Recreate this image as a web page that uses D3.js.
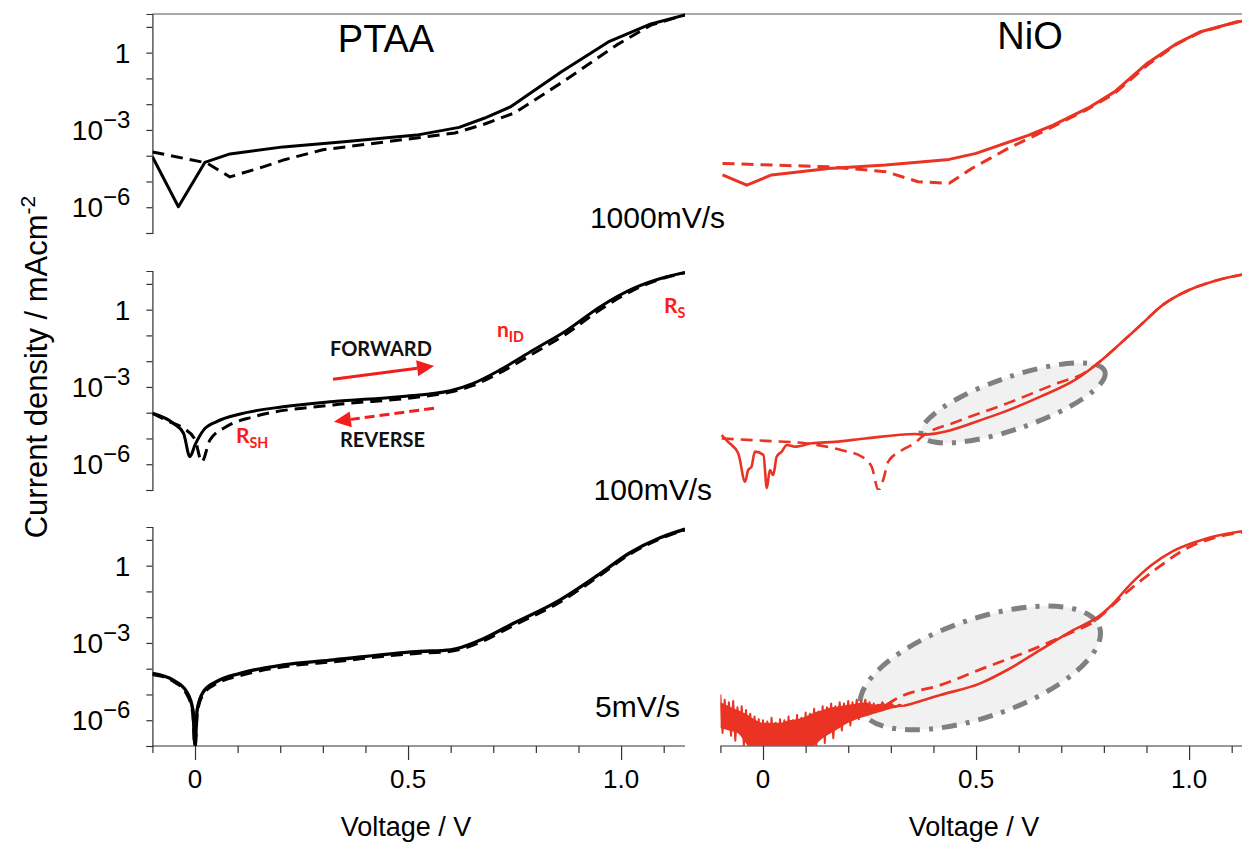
<!DOCTYPE html>
<html><head><meta charset="utf-8">
<script src="https://cdn.jsdelivr.net/npm/d3@7/dist/d3.min.js"></script>
<style>body{margin:0;background:#fff}svg{display:block}</style>
</head><body>
<svg id="chart" width="1242" height="842"></svg>
<script>
// ---------------- DATA (voltage V, current density mA/cm2) ----------------
const voltageTicks = [-0.1,0,0.1,0.2,0.3,0.4,0.5,0.6,0.7,0.8,0.9,1.0,1.1];
const voltageTickLabels = {"0":"0","0.5":"0.5","1":"1.0"};
const currentTicks = [1e-7,1e-6,1e-5,1e-4,1e-3,1e-2,1e-1,1,10];
const currentTickLabels = [[1,"1",""],[1e-3,"10","\u22123"],[1e-6,"10","\u22126"]];
const panelTitles = ["PTAA","NiO"];
const scanRates = ["1000mV/s","100mV/s","5mV/s"];

// PTAA 1000 mV/s
const ptaa1000Fwd = [[-0.1,9.1e-5],[-0.039,1.05e-6],[0.023,5.5e-5],[0.082,1.17e-4],[0.207,2.2e-4],[0.35,3.5e-4],[0.52,6.3e-4],[0.62,1.26e-3],[0.68,2.9e-3],[0.74,7.8e-3],[0.86,0.18],[0.97,2.6],[1.07,13],[1.15,29]];
const ptaa1000Rev = [[-0.1,1.4e-4],[0.028,5.2e-5],[0.082,1.5e-5],[0.16,3.7e-5],[0.21,7.0e-5],[0.3,1.7e-4],[0.52,4.9e-4],[0.61,7.6e-4],[0.68,1.7e-3],[0.75,4.6e-3],[0.87,0.087],[0.99,2.0],[1.07,11.7],[1.15,29]];
// NiO 1000 mV/s
const nio1000Fwd = [[-0.095,1.8e-5],[-0.038,7.2e-6],[0.02,1.8e-5],[0.154,3.2e-5],[0.288,4.4e-5],[0.437,7.2e-5],[0.5,1.23e-4],[0.624,6.3e-4],[0.681,1.55e-3],[0.768,7.9e-3],[0.825,0.030],[0.902,0.39],[0.972,2.3],[1.027,6.5],[1.113,15.8],[1.15,19]];
const nio1000Rev = [[-0.095,5.0e-5],[0.154,3.7e-5],[0.288,2.4e-5],[0.364,9.8e-6],[0.437,8.5e-6],[0.49,3.2e-5],[0.576,1.95e-4],[0.672,1.15e-3],[0.758,5.9e-3],[0.825,0.026],[0.902,0.33],[0.972,2.2],[1.027,6.3],[1.113,15.5],[1.15,19]];
// PTAA 100 mV/s
const ptaa100Fwd = [[-0.1,9.5e-5],[-0.051,3.9e-5],[-0.027,1.6e-5],[-0.012,1.95e-6],[0,5.6e-6],[0.02,2.1e-5],[0.051,4.5e-5],[0.106,8.9e-5],[0.207,1.7e-4],[0.325,2.7e-4],[0.481,4.2e-4],[0.599,7.1e-4],[0.653,1.38e-3],[0.716,4.6e-3],[0.794,0.027],[0.873,0.16],[0.951,1.3],[1.03,6.8],[1.107,19],[1.15,28]];
const ptaa100Rev = [[-0.1,9.5e-5],[-0.06,4.5e-5],[-0.027,2.5e-5],[0.0,9e-6],[0.016,1.26e-6],[0.035,8.7e-6],[0.074,2.9e-5],[0.137,6.9e-5],[0.325,2.0e-4],[0.52,4.0e-4],[0.599,6.3e-4],[0.653,1.15e-3],[0.716,3.6e-3],[0.794,0.02],[0.873,0.12],[0.951,1.0],[1.03,5.9],[1.107,18],[1.15,27]];
// NiO 100 mV/s
const nio100Fwd = [[-0.097,1.35e-5],[-0.082,7.4e-6],[-0.058,2.6e-6],[-0.042,2.1e-7],[-0.035,5.9e-7],[-0.027,8e-7],[-0.019,3.1e-6],[0.001,2.3e-6],[0.009,1.2e-7],[0.016,5.9e-7],[0.024,3.8e-7],[0.032,1.95e-6],[0.044,3.1e-6],[0.056,5.6e-6],[0.075,4.8e-6],[0.114,6.5e-6],[0.169,7.4e-6],[0.24,1.0e-5],[0.357,1.5e-5],[0.373,1.4e-5],[0.533,6.9e-5],[0.651,4.2e-4],[0.737,2.1e-3],[0.8,0.013],[0.839,0.049],[0.886,0.25],[0.94,1.6],[1.0,5.8],[1.06,13],[1.12,22],[1.15,27]];
const nio100Rev = [[-0.097,1.0e-5],[0.005,8.1e-6],[0.099,6.5e-6],[0.185,3.5e-6],[0.232,1.95e-6],[0.255,8e-7],[0.271,1e-7],[0.283,2.8e-7],[0.294,1.26e-6],[0.326,3.5e-6],[0.357,6.8e-6],[0.373,1.17e-5],[0.455,4.5e-5],[0.573,2.3e-4],[0.69,1.38e-3],[0.753,3.4e-3],[0.8,0.013],[0.839,0.049],[0.886,0.25],[0.94,1.6],[1.0,5.8],[1.06,13],[1.12,22],[1.15,27]];
// PTAA 5 mV/s
const ptaa5Fwd = [[-0.1,6.6e-5],[-0.051,3.6e-5],[-0.02,1.3e-5],[-0.005,2.5e-6],[0,1.1e-7],[0.005,2.5e-6],[0.02,1.3e-5],[0.051,3.2e-5],[0.106,6.6e-5],[0.207,1.4e-4],[0.325,2.2e-4],[0.52,4.6e-4],[0.6,5.4e-4],[0.67,1.3e-3],[0.74,5e-3],[0.857,0.047],[0.95,0.48],[1.02,3.1],[1.09,11.8],[1.15,26]];
const ptaa5Rev = [[-0.1,6e-5],[-0.05,3.2e-5],[-0.02,1.1e-5],[-0.005,2e-6],[0,1e-7],[0.005,2e-6],[0.02,1.1e-5],[0.051,2.7e-5],[0.106,5.5e-5],[0.207,1.2e-4],[0.325,1.9e-4],[0.52,4.0e-4],[0.6,4.8e-4],[0.67,1.1e-3],[0.74,4.2e-3],[0.857,0.04],[0.95,0.42],[1.02,2.8],[1.09,11],[1.15,25]];
const nio5FwdNoise = [[-0.1,1.0e-5],[-0.095,3.2e-7],[-0.09,6.3e-6],[-0.085,5.0e-7],[-0.08,5.0e-6],[-0.075,2.5e-7],[-0.07,5.6e-6],[-0.065,1.6e-7],[-0.06,3.2e-6],[-0.055,4.0e-7],[-0.05,3.5e-6],[-0.045,1.0e-7],[-0.04,2.5e-6],[-0.035,1.3e-7],[-0.03,1.8e-6],[-0.025,5.0e-8],[-0.02,1.4e-6],[-0.015,8.0e-8],[-0.01,1.1e-6],[-0.005,2.5e-8],[0.0,1.0e-6],[0.005,4.0e-8],[0.01,8.9e-7],[0.015,3.2e-8],[0.02,1.26e-6],[0.025,6.3e-8],[0.03,7.9e-7],[0.035,2.5e-8],[0.04,1.1e-6],[0.045,5.0e-8],[0.05,1.0e-6],[0.055,3.2e-8],[0.06,1.4e-6],[0.065,4.0e-8],[0.07,1.0e-6],[0.075,6.3e-8],[0.08,1.6e-6],[0.085,2.5e-8],[0.09,1.26e-6],[0.095,8.0e-8],[0.1,2.0e-6],[0.105,5.0e-8],[0.11,1.8e-6],[0.115,2.5e-7],[0.12,2.8e-6],[0.125,1.0e-7],[0.13,2.2e-6],[0.135,3.2e-7],[0.14,3.5e-6],[0.145,1.3e-7],[0.15,3.2e-6],[0.155,5.0e-7],[0.16,4.5e-6],[0.165,2.0e-7],[0.17,3.5e-6],[0.175,7.9e-7],[0.18,5.0e-6],[0.185,4.0e-7],[0.19,4.5e-6],[0.195,1.0e-6],[0.2,5.6e-6],[0.205,6.3e-7],[0.21,5.0e-6],[0.215,1.26e-6],[0.22,6.3e-6],[0.225,1.1e-6],[0.23,5.6e-6],[0.235,1.8e-6],[0.24,6.3e-6],[0.245,1.6e-6],[0.25,5.0e-6],[0.255,2.2e-6],[0.26,4.5e-6],[0.265,2.0e-6],[0.27,4.0e-6],[0.275,2.5e-6],[0.28,5.0e-6],[0.29,2.8e-6],[0.3,4.5e-6],[0.31,3.2e-6],[0.32,4.0e-6],[0.33,3.5e-6]];
const nio5NoiseUpper = [[-0.1,5.0e-6],[-0.08,3.5e-6],[-0.06,2.5e-6],[-0.04,1.8e-6],[-0.02,1.1e-6],[0.0,7.9e-7],[0.02,7.9e-7],[0.04,7.9e-7],[0.06,1.0e-6],[0.08,1.1e-6],[0.1,1.4e-6],[0.12,2.0e-6],[0.14,2.5e-6],[0.16,3.2e-6],[0.18,3.5e-6],[0.2,4.0e-6],[0.22,4.5e-6],[0.24,5.0e-6],[0.26,4.0e-6],[0.28,4.5e-6],[0.3,4.0e-6],[0.33,3.7e-6]];
const nio5NoiseLower = [[-0.1,5.0e-7],[-0.08,4.0e-7],[-0.06,3.2e-7],[-0.04,1.26e-7],[-0.02,5e-8],[0.0,3.2e-8],[0.02,3.2e-8],[0.04,3.2e-8],[0.06,3.2e-8],[0.08,3.2e-8],[0.1,4e-8],[0.12,1e-7],[0.14,2e-7],[0.16,3.2e-7],[0.18,5e-7],[0.2,7.9e-7],[0.22,1.1e-6],[0.24,1.4e-6],[0.26,1.8e-6],[0.28,2.2e-6],[0.3,2.8e-6],[0.33,3.4e-6]];
const nio5Fwd = [[0.33,3.6e-6],[0.338,3.9e-6],[0.416,9.5e-6],[0.51,2.7e-5],[0.573,8.9e-5],[0.651,5.4e-4],[0.729,3.2e-3],[0.792,0.012],[0.815,0.026],[0.864,0.2],[0.912,1.05],[0.96,3.5],[1.017,8.5],[1.12,21],[1.15,24]];
const nio5Rev = [[0.29,4.0e-6],[0.322,8.1e-6],[0.416,2.3e-5],[0.518,1.05e-4],[0.62,4.6e-4],[0.729,2.8e-3],[0.776,6.6e-3],[0.815,0.024],[0.864,0.13],[0.93,0.91],[0.988,4.1],[1.055,11.5],[1.12,19],[1.15,22]];

// annotation anchors (data units)
const fwdArrow = [[0.324,2.0e-3],[0.561,6.5e-3]];
const revArrow = [[0.561,1.5e-4],[0.326,4.5e-5]];
const ellipses = [ // [panelRow, centerV, centerJ]
  [1,0.587,2.4e-4],[2,0.51,1.07e-4]];

// ---------------- LAYOUT ----------------
const svg = d3.select("#chart");
const rowTop = [14,271,527], rowH = 219;
const xL = d3.scaleLinear().domain([-0.1,1.15]).range([152.4,685]);
const xR = d3.scaleLinear().domain([-0.1,1.15]).range([720.4,1253]);
const yS = rowTop.map(t => d3.scaleLog().domain([1e-7,Math.pow(10,1.5)]).range([t+rowH,t]));
const black = "#000", red = "#ea3323", axisCol = "#333";
const FONT = "'Liberation Sans', Arial, Helvetica, sans-serif";
const AFONT = "Lato, 'Open Sans', sans-serif";

// clip paths
const defs = svg.append("defs");
[["L",xL],["R",xR]].forEach(([k,x]) => rowTop.forEach((t,i) => {
  defs.append("clipPath").attr("id",`clip${k}${i}`).append("rect")
    .attr("x",x.range()[0]).attr("y",t-3).attr("width",x.range()[1]-x.range()[0]).attr("height",rowH+3);
}));

// top frame line
svg.append("line").attr("x1",xL.range()[0]).attr("x2",1242).attr("y1",rowTop[0]).attr("y2",rowTop[0])
  .attr("stroke","#555").attr("stroke-width",1.2);

// ellipses (drawn under curves)
const ellSize = {1:[97,26],2:[126,49]};
ellipses.forEach(([r,v,j]) => {
  const [a,b] = ellSize[r];
  svg.append("ellipse").attr("cx",0).attr("cy",0).attr("rx",a).attr("ry",b)
    .attr("transform",`translate(${xR(v)},${yS[r](j)}) rotate(-19)`)
    .attr("fill","#f1f1f1").attr("stroke","#808080").attr("stroke-width",5)
    .attr("stroke-dasharray","15,9,4,9");
});

// y axes (left panels only)
rowTop.forEach((t,i) => {
  const g = svg.append("g").attr("transform",`translate(${xL.range()[0]},0)`)
    .call(d3.axisLeft(yS[i]).tickValues(currentTicks).tickSize(6).tickFormat(""));
  g.select(".domain").attr("stroke",axisCol).attr("stroke-width",1.2);
  g.selectAll(".tick line").attr("stroke",axisCol).attr("stroke-width",1.2);
  currentTickLabels.forEach(([v,base,sup]) => {
    const tx = svg.append("text").attr("x",xL.range()[0]-22).attr("y",yS[i](v)+10)
      .attr("text-anchor","end").attr("font-family",FONT).attr("font-size",28).attr("fill","#000");
    tx.append("tspan").text(base);
    if (sup) tx.append("tspan").attr("dy",-12).attr("font-size",24).text(sup);
  });
});

// x axes (bottom)
[xL,xR].forEach(x => {
  const yb = rowTop[2]+rowH;
  const g = svg.append("g").attr("transform",`translate(0,${yb})`)
    .call(d3.axisBottom(x).tickValues(voltageTicks).tickSize(7).tickFormat(""));
  g.select(".domain").attr("stroke",axisCol).attr("stroke-width",1.2).attr("d",`M${x.range()[0]},0H${x.range()[1]}`);
  g.selectAll(".tick line").attr("stroke",axisCol).attr("stroke-width",1.2)
    .attr("y2",d => (Math.abs(d)<1e-9||Math.abs(d-0.5)<1e-9||Math.abs(d-1)<1e-9)?14:7);
  Object.entries(voltageTickLabels).forEach(([v,l]) => {
    svg.append("text").attr("x",x(+v)).attr("y",yb+42).attr("text-anchor","middle")
      .attr("font-family",FONT).attr("font-size",26).text(l);
  });
  svg.append("text").attr("x",x(0.5)-2).attr("y",836).attr("text-anchor","middle")
    .attr("font-family",FONT).attr("font-size",27).text("Voltage / V");
});

// y title
const yt = svg.append("text").attr("transform","translate(47,367) rotate(-90)").attr("text-anchor","middle")
  .attr("font-family",FONT).attr("font-size",31);
yt.append("tspan").text("Current density / mAcm");
yt.append("tspan").attr("dy",-12).attr("font-size",21).text("-2");

// curves
function draw(data, x, row, side, color, dashed, width, curve) {
  const line = d3.line().x(d => x(d[0])).y(d => yS[row](d[1])).curve(curve || d3.curveLinear);
  svg.append("path").datum(data).attr("d",line).attr("fill","none")
    .attr("clip-path",`url(#clip${side}${row})`)
    .attr("stroke",color).attr("stroke-width",width||3).attr("stroke-linejoin","round")
    .attr("stroke-dasharray",dashed?"12,7":null);
}
draw(ptaa1000Rev,xL,0,"L",black,true,3);
draw(ptaa1000Fwd,xL,0,"L",black,false,3);
draw(nio1000Rev,xR,0,"R",red,true,3);
draw(nio1000Fwd,xR,0,"R",red,false,3);
draw(ptaa100Rev,xL,1,"L",black,true,3,d3.curveMonotoneX);
draw(ptaa100Fwd,xL,1,"L",black,false,3,d3.curveMonotoneX);
draw(nio100Rev,xR,1,"R",red,true,2.6,d3.curveMonotoneX);
draw(nio100Fwd,xR,1,"R",red,false,2.6,d3.curveMonotoneX);
draw(ptaa5Rev,xL,2,"L",black,true,3.4,d3.curveMonotoneX);
draw(ptaa5Fwd,xL,2,"L",black,false,3.4,d3.curveMonotoneX);
// noise band
const noiseBand = nio5NoiseUpper.map((d,i) => [d[0], d[1], nio5NoiseLower[i][1]]);
svg.append("path").datum(noiseBand)
  .attr("d", d3.area().x(d => xR(d[0])).y0(d => yS[2](d[2])).y1(d => yS[2](d[1])).curve(d3.curveMonotoneX))
  .attr("fill",red).attr("clip-path","url(#clipR2)");
draw(nio5FwdNoise,xR,2,"R",red,false,2);
draw(nio5Rev,xR,2,"R",red,true,2.8,d3.curveMonotoneX);
draw(nio5Fwd,xR,2,"R",red,false,2.6,d3.curveMonotoneX);

// panel titles & scan rates
svg.append("text").attr("x",386).attr("y",52).attr("text-anchor","middle").attr("font-family",FONT).attr("font-size",38).text(panelTitles[0]);
svg.append("text").attr("x",1030).attr("y",49).attr("text-anchor","middle").attr("font-family",FONT).attr("font-size",38).text(panelTitles[1]);
[[725,228],[712,500],[680,717]].forEach(([x,y],i) => {
  svg.append("text").attr("x",x).attr("y",y).attr("text-anchor","end").attr("font-family",FONT).attr("font-size",30).text(scanRates[i]);
});

// arrows
const annRed = "#f41d1d";
function arrow(pts, dashed) {
  const p0 = [xL(pts[0][0]), yS[1](pts[0][1])], p1 = [xL(pts[1][0]), yS[1](pts[1][1])];
  const dx = p1[0]-p0[0], dy = p1[1]-p0[1], L = Math.hypot(dx,dy), ux = dx/L, uy = dy/L;
  const hl = 17, hw = 8;
  const bx = p1[0]-ux*hl, by = p1[1]-uy*hl;
  svg.append("line").attr("x1",p0[0]).attr("y1",p0[1]).attr("x2",bx).attr("y2",by)
    .attr("stroke",annRed).attr("stroke-width",3).attr("stroke-dasharray",dashed?"10,5":null);
  svg.append("path").attr("d",`M${p1[0]},${p1[1]}L${bx-uy*hw},${by+ux*hw}L${bx+uy*hw},${by-ux*hw}Z`).attr("fill",annRed);
}
arrow(fwdArrow,false);
arrow(revArrow,true);
function ann(x,y,main,sub,color,size) {
  const t = svg.append("text").attr("x",x).attr("y",y).attr("font-family",AFONT).attr("font-weight",700)
    .attr("font-size",size).attr("fill",color);
  t.append("tspan").text(main);
  if (sub) t.append("tspan").attr("dy",5).attr("font-size",size*0.68).text(sub);
}
ann(330,356,"FORWARD","","#111",20);
ann(340,447,"REVERSE","","#111",20);
ann(497,337,"n","ID","#ff1a1a",21);
ann(664,313,"R","S","#ff1a1a",21);
ann(236,443,"R","SH","#ff1a1a",21);
</script>
</body></html>
